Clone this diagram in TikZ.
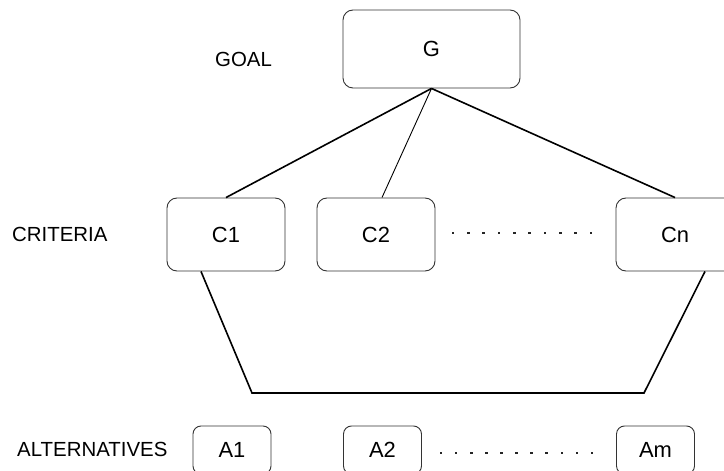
\documentclass[tikz,border=0pt]{standalone}
\usepackage{fontspec}
\setmainfont{Liberation Sans}
\usetikzlibrary{calc}

\tikzset{
  levelbox/.style={draw=black!80, line width=0.9bp, rounded corners=10bp,
    inner sep=0pt, font=\fontsize{22pt}{25pt}\selectfont},
  altbox/.style={levelbox, rounded corners=8bp, minimum width=78bp, minimum height=48bp},
  critbox/.style={levelbox, minimum width=118bp, minimum height=73bp},
  levellabel/.style={anchor=base west, inner sep=0pt, font=\fontsize{20.5pt}{23pt}\selectfont},
  heavy/.style={line width=1.6bp},
  light/.style={line width=0.9bp},
  dotmark/.style={fill=black!85}
}

\begin{document}
\begin{tikzpicture}[x=1bp,y=-1bp]
  \useasboundingbox (0,0) rectangle (724,471);
  \clip (0,0) rectangle (724,471);

  % level names
  \node[levellabel] (goal) at (215,67) {GOAL};
  \node[levellabel] (crit) at (12,242) {CRITERIA};
  \node[levellabel] (alts) at (17,456) {ALTERNATIVES};

  % goal
  \node[levelbox, minimum width=177bp, minimum height=78bp] (G) at (431.5,49) {G};

  % criteria
  \node[critbox] (C1) at (226,234.5) {C1};
  \node[critbox] (C2) at (376,234.5) {C2};
  \node[critbox] (Cn) at (675,234.5) {Cn};

  % alternatives
  \node[altbox] (A1) at (232,450) {A1};
  \node[altbox] (A2) at (382.5,450) {A2};
  \node[altbox] (Am) at (655.5,450) {Am};

  % goal to criteria
  \draw[heavy] (G.south) -- (C1.north);
  \draw[light] (G.south) -- ([xshift=6bp]C2.north);
  \draw[heavy] (G.south) -- (Cn.north);

  % criteria to the alternatives level
  \coordinate (bl) at (252,393);
  \coordinate (br) at (644,393);
  \draw[heavy] ([xshift=-25bp]C1.south) -- (bl) -- (br) -- ([xshift=30bp]Cn.south);

  % ellipsis dots
  \foreach \i in {0,...,9}
    \fill[dotmark] (453+15.33*\i-1.3,233-1.3) rectangle ++(2.6,2.6);
  \foreach \i in {0,...,10}
    \fill[dotmark] (441+15.1*\i-1.3,453-1.3) rectangle ++(2.6,2.6);
\end{tikzpicture}
\end{document}
